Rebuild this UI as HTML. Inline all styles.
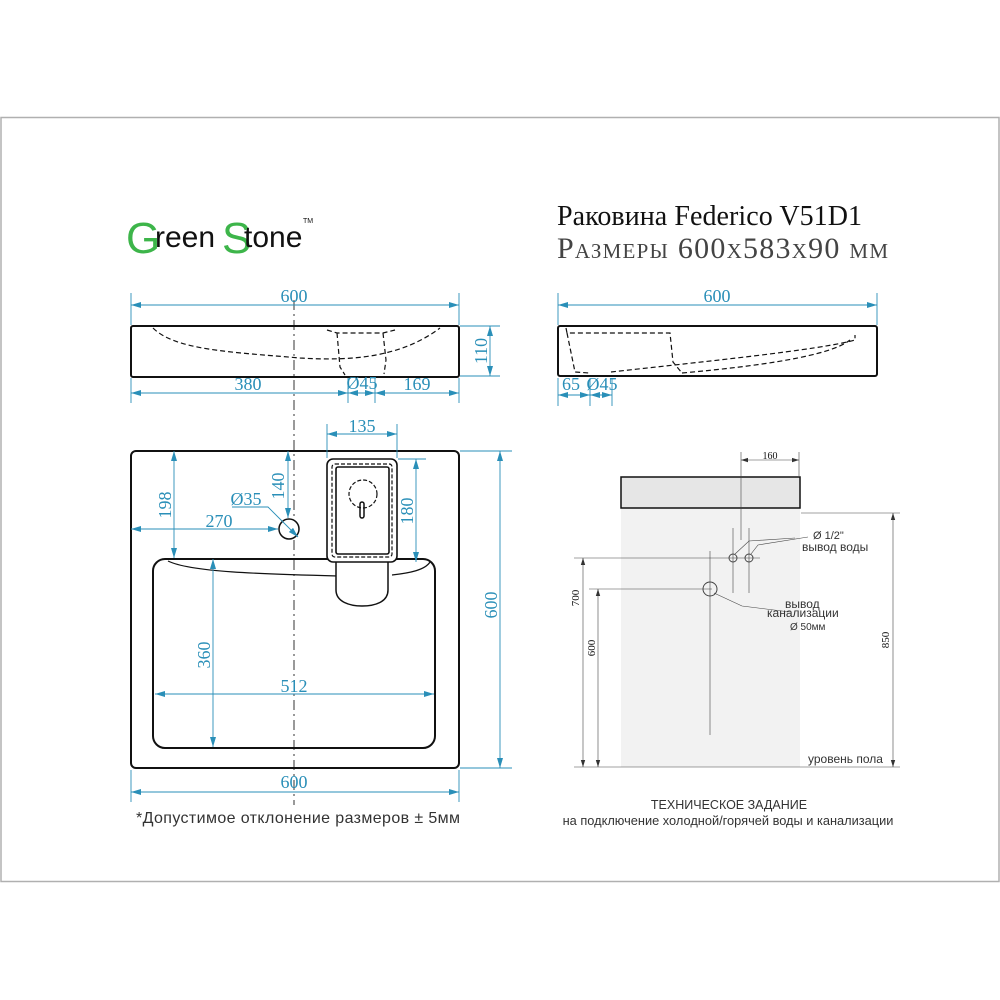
<!DOCTYPE html>
<html><head><meta charset="utf-8"><style>
html,body{margin:0;padding:0;background:#fff}
svg{display:block}
.d{stroke:#2a8fb8;stroke-width:0.9;fill:none}
.t{fill:#2a8fb8;font-family:"Liberation Serif",serif;font-size:18px;text-anchor:middle}
.s{font-family:"Liberation Sans",sans-serif;fill:#333}
</style></head><body>
<svg width="1000" height="1000" viewBox="0 0 1000 1000" xmlns="http://www.w3.org/2000/svg">
<defs>
<marker id="a" viewBox="0 0 10 6" refX="10" refY="3" markerWidth="10" markerHeight="6" orient="auto-start-reverse" markerUnits="userSpaceOnUse"><path d="M0,0 L10,3 L0,6z" fill="#2a8fb8"/></marker>
<marker id="k" viewBox="0 0 8 5" refX="8" refY="2.5" markerWidth="7" markerHeight="5" orient="auto-start-reverse" markerUnits="userSpaceOnUse"><path d="M0,0 L8,2.5 L0,5z" fill="#333"/></marker>
</defs>
<rect x="1" y="117.5" width="998" height="764" fill="none" stroke="#b0b0b0" stroke-width="1.5"/>

<!-- logo -->
<g font-family="Liberation Sans,sans-serif">
<text x="126" y="253" font-size="44" fill="#3db54a">G</text>
<text x="155" y="247" font-size="30" fill="#111">reen</text>
<text x="222" y="253" font-size="44" fill="#3db54a">S</text>
<text x="244" y="247" font-size="30" fill="#111">tone</text>
<text x="303" y="223" font-size="7" fill="#111">TM</text>
</g>
<text x="557" y="225" font-family="Liberation Serif,serif" font-size="28" fill="#111" textLength="305">Раковина Federico V51D1</text>
<text x="557" y="258" font-family="Liberation Serif,serif" font-size="30" fill="#444" style="font-variant:small-caps" textLength="331">Размеры 600x583x90 мм</text>

<!-- front view -->
<line x1="294" y1="300" x2="294" y2="805" stroke="#333" stroke-width="1" stroke-dasharray="10,4,2,4"/>
<rect x="131" y="326" width="328" height="51" rx="2" fill="none" stroke="#111" stroke-width="2"/>
<path d="M153,328 C175,350 230,352 300,358 C350,361 400,358 440,328" fill="none" stroke="#111" stroke-width="1.2" stroke-dasharray="5,3"/>
<path d="M327,330 L337,333 L383,333 L395,330 M337,333 L340,367 L345,375 M383,333 L386,360 L384,374" fill="none" stroke="#111" stroke-width="1.2" stroke-dasharray="5,3"/>
<g class="d">
<line x1="131" y1="293" x2="131" y2="325"/><line x1="459" y1="293" x2="459" y2="325"/>
<line x1="131" y1="305" x2="459" y2="305" marker-start="url(#a)" marker-end="url(#a)"/>
<line x1="460" y1="326" x2="500" y2="326"/><line x1="460" y1="376" x2="500" y2="376"/>
<line x1="490" y1="326" x2="490" y2="376" marker-start="url(#a)" marker-end="url(#a)"/>
<line x1="131" y1="378" x2="131" y2="403"/><line x1="459" y1="378" x2="459" y2="403"/>
<line x1="348" y1="378" x2="348" y2="403"/><line x1="375" y1="378" x2="375" y2="403"/>
<line x1="131" y1="393" x2="348" y2="393" marker-start="url(#a)" marker-end="url(#a)"/>
<line x1="348" y1="393" x2="375" y2="393" marker-start="url(#a)" marker-end="url(#a)"/>
<line x1="375" y1="393" x2="459" y2="393" marker-start="url(#a)" marker-end="url(#a)"/>
</g>
<text class="t" x="294" y="302">600</text>
<text class="t" x="248" y="390">380</text>
<text class="t" x="362" y="389" font-size="13">Ø45</text>
<text class="t" x="417" y="390">169</text>
<text class="t" transform="translate(487,351) rotate(-90)" y="0">110</text>

<!-- side view -->
<rect x="558" y="326" width="319" height="50" rx="2" fill="none" stroke="#111" stroke-width="2"/>
<path d="M566,328 L567,333 L670,333 L673,362 L682,373 M567,333 L575,372 L589,373 M611,372 C700,362 820,350 855,340 L855,335" fill="none" stroke="#111" stroke-width="1.2" stroke-dasharray="5,3"/>
<path d="M682,373 C760,366 830,356 850,340" fill="none" stroke="#111" stroke-width="1.2" stroke-dasharray="5,3"/>
<g class="d">
<line x1="558" y1="293" x2="558" y2="325"/><line x1="877" y1="293" x2="877" y2="325"/>
<line x1="558" y1="305" x2="877" y2="305" marker-start="url(#a)" marker-end="url(#a)"/>
<line x1="558" y1="378" x2="558" y2="406"/><line x1="590" y1="378" x2="590" y2="406"/><line x1="612" y1="378" x2="612" y2="406"/>
<line x1="558" y1="395" x2="590" y2="395" marker-start="url(#a)" marker-end="url(#a)"/>
<line x1="590" y1="395" x2="612" y2="395" marker-start="url(#a)" marker-end="url(#a)"/>
</g>
<text class="t" x="717" y="302">600</text>
<text class="t" x="571" y="390" font-size="14">65</text>
<text class="t" x="602" y="390" font-size="13">Ø45</text>

<!-- top view -->
<rect x="131" y="451" width="328" height="317" rx="5" fill="none" stroke="#111" stroke-width="2"/>
<rect x="153" y="559" width="282" height="189" rx="12" fill="none" stroke="#111" stroke-width="2"/>
<path d="M168,561 C190,572 260,574 338,576 M392,575 C410,573 425,570 430,562" fill="none" stroke="#111" stroke-width="1.2"/>
<path d="M336,560 L336,590 C336,602 350,606 362,606 C375,606 388,602 388,590 L388,560" fill="#fff" stroke="#111" stroke-width="1.5"/>
<rect x="327" y="459" width="70" height="103" rx="6" fill="#fff" stroke="#111" stroke-width="1.6"/>
<rect x="332" y="464" width="60" height="93" rx="3" fill="none" stroke="#111" stroke-width="1.2" stroke-dasharray="4,2"/>
<rect x="336" y="467" width="53" height="87" rx="2" fill="none" stroke="#111" stroke-width="1.6"/>
<circle cx="363" cy="494" r="14" fill="none" stroke="#111" stroke-width="1.2" stroke-dasharray="4,2"/>
<rect x="360" y="502" width="4" height="16" rx="2" fill="none" stroke="#111" stroke-width="1.5"/>
<circle cx="289" cy="529" r="10" fill="#fff" stroke="#111" stroke-width="1.5"/>
<g class="d">
<line x1="327" y1="424" x2="327" y2="458"/><line x1="397" y1="424" x2="397" y2="458"/>
<line x1="327" y1="434" x2="397" y2="434" marker-start="url(#a)" marker-end="url(#a)"/>
<line x1="174" y1="451" x2="174" y2="558" marker-start="url(#a)" marker-end="url(#a)"/>
<line x1="288" y1="451" x2="288" y2="518" marker-start="url(#a)" marker-end="url(#a)"/>
<line x1="131" y1="529" x2="278" y2="529" marker-start="url(#a)" marker-end="url(#a)"/>
<polyline points="232,507 268,507 282,521"/>
<line x1="282" y1="521" x2="298" y2="537" marker-end="url(#a)"/>
<line x1="398" y1="459" x2="426" y2="459"/>
<line x1="416" y1="459" x2="416" y2="562" marker-start="url(#a)" marker-end="url(#a)"/>
<line x1="460" y1="451" x2="512" y2="451"/><line x1="460" y1="768" x2="512" y2="768"/>
<line x1="500" y1="451" x2="500" y2="768" marker-start="url(#a)" marker-end="url(#a)"/>
<line x1="213" y1="559" x2="213" y2="747" marker-start="url(#a)" marker-end="url(#a)"/>
<line x1="155" y1="694" x2="434" y2="694" marker-start="url(#a)" marker-end="url(#a)"/>
<line x1="131" y1="770" x2="131" y2="802"/><line x1="459" y1="770" x2="459" y2="802"/>
<line x1="131" y1="792" x2="459" y2="792" marker-start="url(#a)" marker-end="url(#a)"/>
</g>
<text class="t" x="362" y="432">135</text>
<text class="t" transform="translate(171,505) rotate(-90)">198</text>
<text class="t" transform="translate(284,486) rotate(-90)">140</text>
<text class="t" x="219" y="527">270</text>
<text class="t" x="246" y="505" font-size="14">Ø35</text>
<text class="t" transform="translate(413,511) rotate(-90)">180</text>
<text class="t" transform="translate(497,605) rotate(-90)">600</text>
<text class="t" transform="translate(210,655) rotate(-90)">360</text>
<text class="t" x="294" y="692">512</text>
<text class="t" x="294" y="788">600</text>
<text class="s" x="136" y="823" font-size="16" fill="#111" textLength="324">*Допустимое отклонение размеров ± 5мм</text>

<!-- installation -->
<rect x="621" y="508" width="179" height="259" fill="#f2f2f2"/>
<rect x="621" y="477" width="179" height="31" fill="#e6e6e6" stroke="#111" stroke-width="1.5"/>
<g stroke="#444" stroke-width="0.6" fill="none">
<line x1="741" y1="452" x2="741" y2="540"/>
<line x1="799" y1="452" x2="799" y2="476"/>
<line x1="741" y1="460" x2="799" y2="460" marker-start="url(#k)" marker-end="url(#k)"/>
<line x1="733" y1="528" x2="733" y2="593"/><line x1="749" y1="528" x2="749" y2="593"/>
<line x1="574" y1="558" x2="760" y2="558"/>
<line x1="589" y1="589" x2="712" y2="589"/>
<line x1="710" y1="551" x2="710" y2="735"/>
<line x1="801" y1="513" x2="900" y2="513"/>
<line x1="574" y1="767" x2="900" y2="767"/>
<line x1="583" y1="558" x2="583" y2="767" marker-start="url(#k)" marker-end="url(#k)"/>
<line x1="598" y1="589" x2="598" y2="767" marker-start="url(#k)" marker-end="url(#k)"/>
<line x1="893" y1="513" x2="893" y2="767" marker-start="url(#k)" marker-end="url(#k)"/>
<polyline points="735,554 749,541 795,538"/>
<polyline points="751,554 758,545 808,537"/>
<polyline points="714,593 742,606 790,612"/>
<circle cx="733" cy="558" r="4" stroke-width="1"/>
<circle cx="749" cy="558" r="4" stroke-width="1"/>
<circle cx="710" cy="589" r="7" stroke-width="1"/>
</g>
<text x="770" y="459" font-family="Liberation Serif,serif" font-size="10" text-anchor="middle" fill="#111">160</text>
<text class="s" x="813" y="539" font-size="11">Ø 1/2"</text>
<text class="s" x="802" y="551" font-size="12">вывод воды</text>
<text class="s" x="785" y="608" font-size="12">вывод</text>
<text class="s" x="767" y="617" font-size="12">канализации</text>
<text class="s" x="790" y="630" font-size="10">Ø 50мм</text>
<text class="s" x="808" y="763" font-size="12">уровень пола</text>
<g font-family="Liberation Serif,serif" font-size="11" fill="#111" text-anchor="middle">
<text transform="translate(579,598) rotate(-90)">700</text>
<text transform="translate(595,648) rotate(-90)">600</text>
<text transform="translate(889,640) rotate(-90)">850</text>
</g>
<text class="s" x="729" y="809" font-size="12.5" text-anchor="middle">ТЕХНИЧЕСКОЕ ЗАДАНИЕ</text>
<text class="s" x="728" y="825" font-size="12.8" text-anchor="middle">на подключение холодной/горячей воды и канализации</text>
</svg>
</body></html>
